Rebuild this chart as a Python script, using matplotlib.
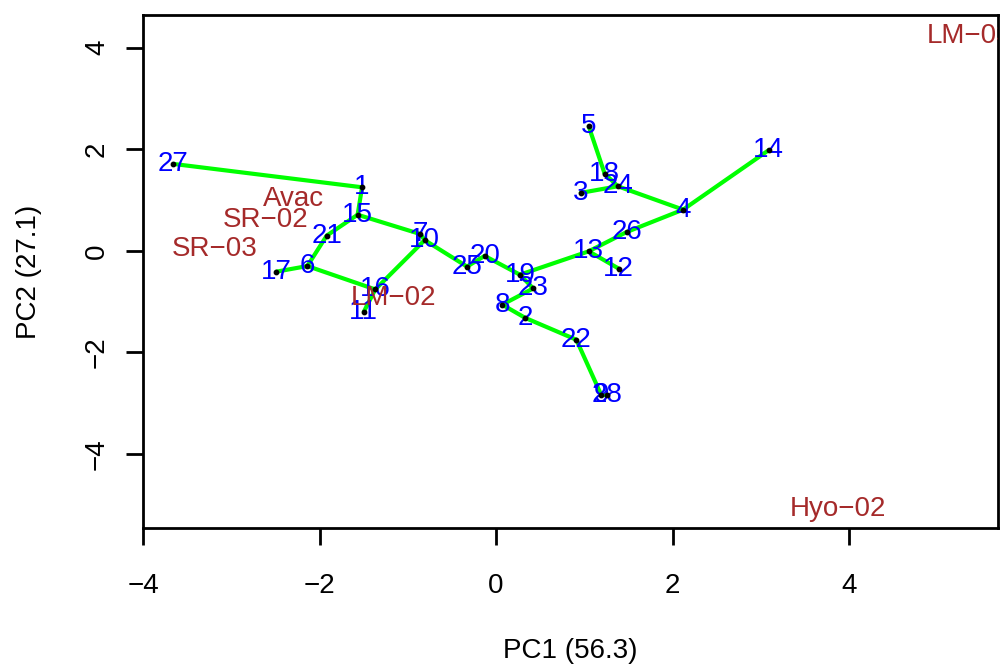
import matplotlib
matplotlib.use("Agg")
import matplotlib.pyplot as plt

plt.rcParams["font.family"] = ["Liberation Sans", "DejaVu Sans"]

# sample scores (PC1, PC2)
ids = ["1", "2", "3", "4", "5", "6", "7", "8", "9", "10", "11", "12", "13", "14",
       "15", "16", "17", "18", "19", "20", "21", "22", "23", "24", "25", "26", "27", "28"]
pc1 = [-1.52, 0.33, 0.96, 2.12, 1.05, -2.14, -0.86, 0.07, 1.19, -0.81, -1.50, 1.39, 1.05, 3.09,
       -1.57, -1.37, -2.49, 1.23, 0.27, -0.13, -1.92, 0.91, 0.42, 1.38, -0.33, 1.48, -3.66, 1.26]
pc2 = [1.25, -1.32, 1.14, 0.81, 2.45, -0.30, 0.33, -1.06, -2.83, 0.21, -1.20, -0.35, -0.01, 1.98,
       0.71, -0.76, -0.41, 1.52, -0.47, -0.10, 0.30, -1.75, -0.74, 1.27, -0.31, 0.37, 1.71, -2.83]

# spanning tree links
edges = [(27, 1), (1, 15), (15, 21), (21, 6), (6, 17), (6, 16), (16, 11), (16, 10),
         (15, 7), (7, 10), (10, 25), (25, 20), (20, 19), (19, 23), (23, 8), (8, 2),
         (2, 22), (22, 9), (9, 28), (19, 13), (13, 12), (13, 26), (26, 4), (4, 14),
         (4, 24), (24, 18), (18, 5), (24, 3)]

# group labels
groups = ["Avac", "SR\u221202", "SR\u221203", "LM\u221202", "LM\u221203", "Hyo\u221202"]
grp_x = [-2.30, -2.61, -3.19, -1.16, 5.37, 3.87]
grp_y = [1.02, 0.61, 0.04, -0.93, 4.23, -5.08]

fig = plt.figure(figsize=(10, 6.64), dpi=100)
ax = fig.add_axes([0.1433, 0.2044, 0.8547, 0.7730])

for a, b in edges:
    ax.plot([pc1[a - 1], pc1[b - 1]], [pc2[a - 1], pc2[b - 1]],
            color="#00FF00", lw=3, zorder=2, solid_capstyle="round")

for lab, x, y in zip(ids, pc1, pc2):
    ax.text(x, y, lab, color="blue", fontsize=20, ha="center", va="center",
            zorder=3, clip_on=True)

for lab, x, y in zip(groups, grp_x, grp_y):
    ax.text(x, y, lab, color="#A52A2A", fontsize=20, ha="center", va="center",
            zorder=3, clip_on=True)

ax.scatter(pc1, pc2, s=10, color="black", zorder=4)

ax.set_xlim(-4.0, 5.69)
ax.set_ylim(-5.46, 4.64)
ax.set_xticks([-4, -2, 0, 2, 4])
ax.set_yticks([-4, -2, 0, 2, 4])
ax.tick_params(direction="out", length=12, width=2, labelsize=20)
ax.tick_params(axis="x", pad=20)
ax.tick_params(axis="y", pad=12)
for lab in ax.get_yticklabels():
    lab.set_rotation(90)
    lab.set_va("center")
for sp in ax.spines.values():
    sp.set_linewidth(2)

ax.set_xlabel("PC1 (56.3)", fontsize=20, labelpad=28)
ax.set_ylabel("PC2 (27.1)", fontsize=20, labelpad=30)

fig.savefig("out.png", dpi=100)
